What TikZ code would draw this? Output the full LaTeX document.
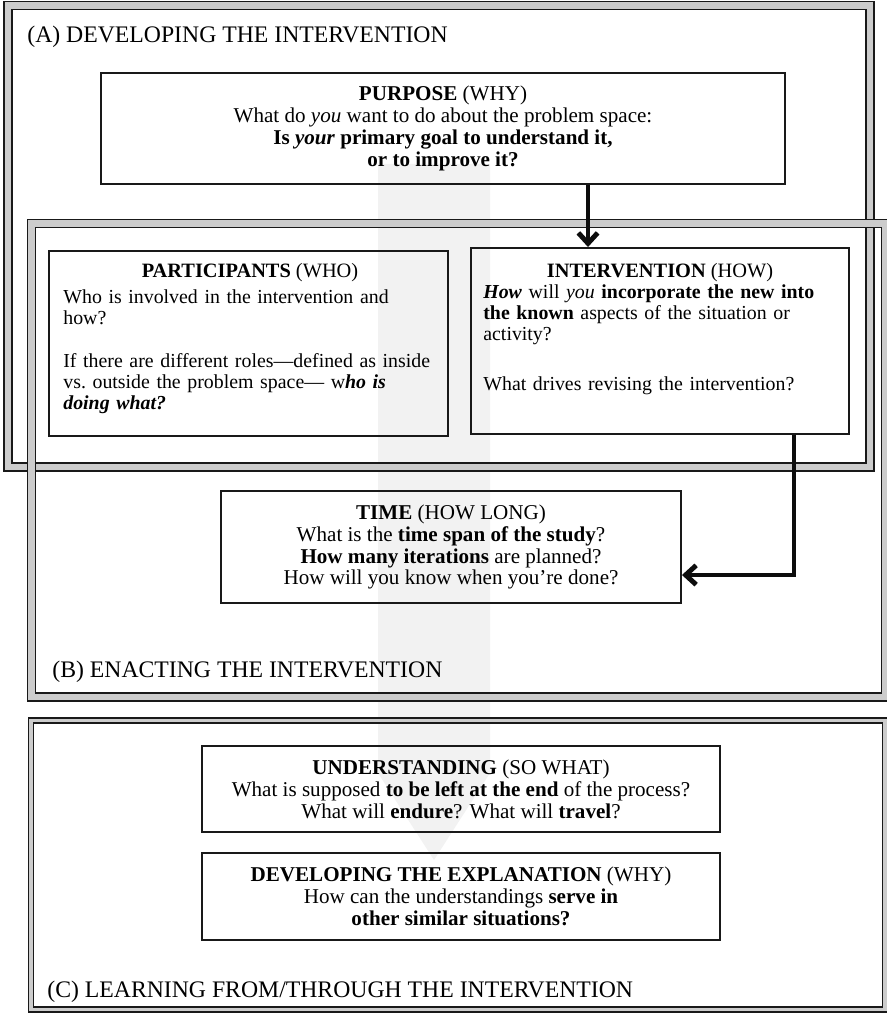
\documentclass[tikz,border=0pt]{standalone}
\usepackage{fontspec}
\setmainfont{Liberation Serif}
\usetikzlibrary{arrows.meta,fit,positioning}
\tikzset{%
  frame/.style={line width=0.85pt, draw=black!90, double=black!20, double distance=#1},
  frame/.default=3.6pt,
  box/.style={draw=black!90, line width=1.1pt, inner sep=0pt},
  boxtext/.style={font=\fontsize{12}{12.5}\selectfont, align=center, inner sep=0pt},
  listhead/.style={font=\fontsize{11.6}{12}\selectfont, inner sep=0pt, anchor=base},
  listtext/.style={font=\fontsize{11.3}{11.95}\selectfont, align=left, inner sep=0pt, anchor=north west},
  section/.style={font=\fontsize{13.5}{16}\selectfont, inner sep=0pt, anchor=base west},
  link/.style={line width=2.8pt, draw=black!95, -{Straight Barb[length=6pt,width=11pt]}},
  band/.style={fill=black!5},
}

\begin{document}
\begin{tikzpicture}[x=0.02cm, y=-0.02cm]
\useasboundingbox (0,0) rectangle (886,1013);
\fill[band] (378,164) -- (490,164) -- (490,773) -- (434,860) -- (378,773) -- cycle;
\draw[frame] (8,5.5) rectangle (870,467);
\draw[frame] (31.5,223.5) rectangle (885.5,697);
\draw[frame=2pt] (30.8,720.7) rectangle (885,1009.5);

\node[section] (secA) at (27,43) {(A) DEVELOPING THE INTERVENTION};
\node[section] (secB) at (52,677) {(B) ENACTING THE INTERVENTION};
\node[section] (secC) at (47,997) {(C) LEARNING FROM/THROUGH THE INTERVENTION};

\node[box, fit={(101,73) (785,184)}] (purpose) {};
\node[boxtext] (purposetxt) at (purpose.center) {\textbf{PURPOSE} (WHY)\\
  What do \textit{you} want to do about the problem space:\\
  \textbf{Is \textit{your} primary goal to understand it,}\\
  \textbf{or to improve it?}};
\node[box, fit={(49,251) (448,436)}] (part) {};
\node[listhead] (parthead) at (250,277) {\textbf{PARTICIPANTS} (WHO)};
\node[listtext, text width=8cm] (parttxt) at (63,289.4) {Who is involved in the intervention and\\
  how?\\[0.44cm]
  If there are different roles—defined as inside\\
  vs.\ outside the problem space—\ w\textbf{\textit{ho is}}\\
  \textbf{\textit{doing what?}}};
\node[box, fit={(471,248) (849,434)}] (inter) {};
\node[listhead] (interhead) at (660,277) {\textbf{INTERVENTION} (HOW)};
\node[listtext, text width=7.2cm] (intertxt) at (483,284.4) {\textbf{\textit{How}} will \textit{you} \textbf{incorporate the new into}\\
  \textbf{the known} aspects of the situation or\\
  activity?\\[0.58cm]
  What drives revising the intervention?};
\node[box, fit={(221,491) (681,603)}] (time) {};
\node[boxtext] (timetxt) at (time.center) {\textbf{TIME} (HOW LONG)\\
  What is the \textbf{time span of the study}?\\
  \textbf{How many iterations} are planned?\\
  How will you know when you’re done?};
\node[box, fit={(202,746) (720,832)}] (under) {};
\node[boxtext] (undertxt) at (under.center) {\textbf{UNDERSTANDING} (SO WHAT)\\
  What is supposed \textbf{to be left at the end} of the process?\\
  What will \textbf{endure}? What will \textbf{travel}?};
\node[box, fit={(202,853) (720,940)}] (expl) {};
\node[boxtext] (expltxt) at (expl.center) {\textbf{DEVELOPING THE EXPLANATION} (WHY)\\
  How can the understandings \textbf{serve in}\\
  \textbf{other similar situations?}};

\coordinate (drop) at (588,0);
\coordinate (turn) at (794,575);
\draw[link] (drop |- purpose.south) -- (drop |- inter.north);
\draw[link] (turn |- inter.south) -- (turn) -- (turn -| time.east);
\end{tikzpicture}
\end{document}
